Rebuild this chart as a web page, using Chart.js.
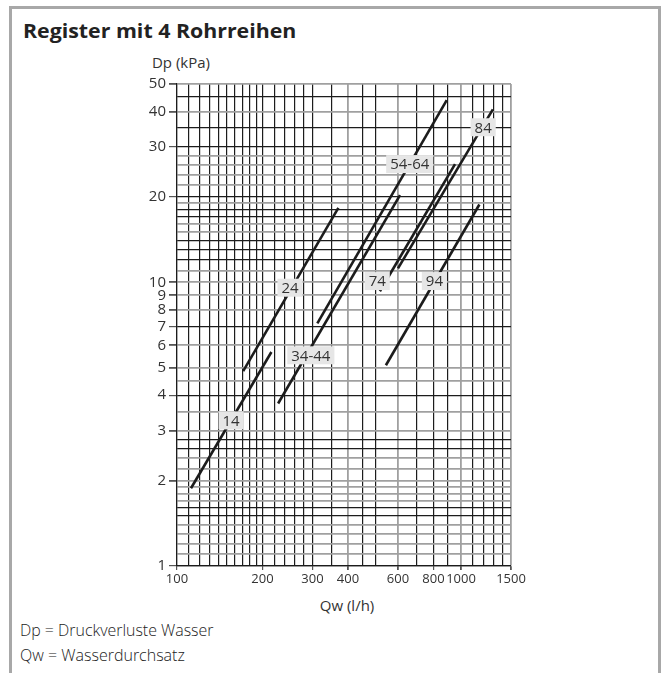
<!DOCTYPE html>
<html>
<head>
<meta charset="utf-8">
<script src="https://cdn.jsdelivr.net/npm/chart.js@4/dist/chart.umd.min.js"></script>
<style>
    body { margin: 0; width: 666px; height: 673px; overflow: hidden; background: #fff; position: relative; font-family: "Open Sans", sans-serif; color: #222; }
    .frame { position: absolute; left: 9px; top: 6px; width: 646px; height: 700px; border: 3px solid #a8a8a8; border-bottom: none; }
    .txt { position: absolute; white-space: nowrap; line-height: 1; transform-origin: 0 50%; }
    #title { left: 23px; top: 21px; font-size: 20px; font-weight: 700; }
    #yTitle { left: 181px; top: 62px; font-size: 15px; color: #333; }
    #xTitle { left: 347px; top: 605px; font-size: 15px; color: #333; }
    .note { left: 20px; font-size: 16px; font-weight: 300; }
    #chartBox { position: absolute; left: 0; top: 0; width: 666px; height: 600px; }
</style>
</head>
<body>
<div class="frame"></div>
<div class="txt" id="title">Register mit 4 Rohrreihen</div>
<div class="txt" id="yTitle">Dp (kPa)</div>
<div class="txt" id="xTitle">Qw (l/h)</div>
<div class="txt note" id="note1" style="top:622px">Dp = Druckverluste Wasser</div>
<div class="txt note" id="note2" style="top:647px">Qw = Wasserdurchsatz</div>
<div id="chartBox"><canvas id="chart" width="666" height="600"></canvas></div>
<script>
const $ = (id) => document.getElementById(id);

// grid values of the log paper
const xGrid = [100, 110, 120, 130, 140, 150, 160, 170, 180, 190, 200, 220, 240, 260, 280, 300, 350, 400, 450, 500, 600, 700, 800, 900, 1000, 1100, 1200, 1300, 1400, 1500];
const xTickLabels = [100, 200, 300, 400, 600, 800, 1000, 1500];
const yGrid = [1, 1.1, 1.2, 1.3, 1.4, 1.5, 1.6, 1.7, 1.8, 1.9, 2, 2.2, 2.4, 2.6, 2.8, 3, 3.5, 4, 4.5, 5, 6, 7, 8, 9, 10, 11, 12, 13, 14, 15, 16, 17, 18, 19, 20, 22, 24, 26, 28, 30, 35, 40, 45, 50];
const yTickLabels = [1, 2, 3, 4, 5, 6, 7, 8, 9, 10, 20, 30, 40, 50];

// curves: [Qw l/h, Dp kPa] start and end
const curve14 = [[112, 1.88], [215, 5.68]];
const curve24 = [[171, 4.86], [370, 18.3]];
const curve3444 = [[227, 3.74], [610, 20.3]];
const curve5464 = [[312, 7.16], [891, 43.9]];
const curve74 = [[518, 9.3], [953, 26.1]];
const curve84 = [[600, 11.2], [1295, 40.7]];
const curve94 = [[544, 5.1], [1161, 18.8]];

const curveNames = ["14", "24", "34-44", "54-64", "74", "84", "94"];
const labelQw = [155, 250, 296, 660, 507, 1197, 806];
const labelDp = [3.26, 9.57, 5.53, 26.1, 10.1, 35.2, 10.1];

// styling of the paper
const greyX = [400, 600, 1000, 1500];
const greyY = [50, 40, 28, 26, 24, 22, 19, 16, 15, 11, 10, 9, 8, 6, 5, 4.5, 3.5, 3, 2.4, 2.2, 2, 1.9, 1.8, 1.7, 1.4, 1.3, 1.2, 1.1];
const BLACK = "#1c1c1c";
const GREY = "#a0a0a0";

function fitWidth(id, w) {
    const el = $(id);
    el.style.transform = `scaleX(${w / el.offsetWidth})`;
}

function centerText(id) {
    const el = $(id);
    el.style.transform = "translate(-50%, -50%)";
}

const labelPlugin = {
    id: "curveLabels",
    afterDatasetsDraw(chart) {
        const ctx = chart.ctx;
        const xs = chart.scales.x;
        const ys = chart.scales.y;
        ctx.save();
        ctx.font = "15px 'Open Sans'";
        ctx.textAlign = "center";
        ctx.textBaseline = "middle";
        curveNames.forEach((name, i) => {
            const px = xs.getPixelForValue(labelQw[i]);
            const py = ys.getPixelForValue(labelDp[i]);
            const w = ctx.measureText(name).width + 8;
            ctx.fillStyle = "#e6e6e6";
            ctx.fillRect(px - w / 2, py - 9, w, 18);
            ctx.fillStyle = "#333";
            ctx.fillText(name, px, py + 1);
        });
        ctx.restore();
    }
};

function toPoints(c) {
    return c.map(p => ({ x: p[0], y: p[1] }));
}

function initChart() {
    const curves = [curve14, curve24, curve3444, curve5464, curve74, curve84, curve94];
    new Chart($("chart").getContext("2d"), {
        type: "scatter",
        data: {
            datasets: curves.map((c, i) => ({
                label: curveNames[i],
                data: toPoints(c),
                showLine: true,
                borderColor: BLACK,
                borderWidth: 2.6,
                pointRadius: 0
            }))
        },
        options: {
            responsive: false,
            animation: false,
            layout: { padding: { left: 100, top: 84, right: 155, bottom: 0 } },
            plugins: { legend: { display: false }, tooltip: { enabled: false } },
            scales: {
                x: {
                    type: "logarithmic",
                    min: 100,
                    max: 1500,
                    afterBuildTicks: (s) => { s.ticks = xGrid.map(v => ({ value: v })); },
                    afterFit: (s) => { s.height = 34; },
                    grid: {
                        color: (c) => greyX.includes(c.tick.value) ? GREY : BLACK,
                        lineWidth: (c) => greyX.includes(c.tick.value) ? 1.8 : 1.2,
                        tickColor: (c) => xTickLabels.includes(c.tick.value) ? "#555" : "rgba(0,0,0,0)",
                        tickLength: 4
                    },
                    border: { display: true, color: BLACK, width: 1.2 },
                    ticks: {
                        autoSkip: false,
                        maxRotation: 0,
                        padding: 1,
                        color: "#333",
                        font: { family: "'Open Sans'", size: 13 },
                        // empty string keeps the grid line, null would drop it
                        callback: (v) => xTickLabels.includes(v) ? String(v) : ""
                    }
                },
                y: {
                    type: "logarithmic",
                    min: 1,
                    max: 50,
                    afterBuildTicks: (s) => { s.ticks = yGrid.map(v => ({ value: v })); },
                    afterFit: (s) => { s.width = 77; },
                    grid: {
                        color: (c) => greyY.includes(c.tick.value) ? GREY : BLACK,
                        lineWidth: (c) => greyY.includes(c.tick.value) ? 1.8 : 1.2,
                        tickColor: (c) => yTickLabels.includes(c.tick.value) ? "#555" : "rgba(0,0,0,0)",
                        tickLength: 8
                    },
                    border: { display: true, color: BLACK, width: 1.2 },
                    ticks: {
                        autoSkip: false,
                        padding: 3,
                        color: "#333",
                        font: { family: "'Open Sans'", size: 15 },
                        callback: (v) => yTickLabels.includes(v) ? String(v) : ""
                    }
                }
            }
        },
        plugins: [labelPlugin]
    });
}

window.addEventListener("DOMContentLoaded", () => {
    fitWidth("title", 273);
    fitWidth("note1", 193);
    fitWidth("note2", 165);
    centerText("yTitle");
    centerText("xTitle");
    initChart();
});
</script>
</body>
</html>
